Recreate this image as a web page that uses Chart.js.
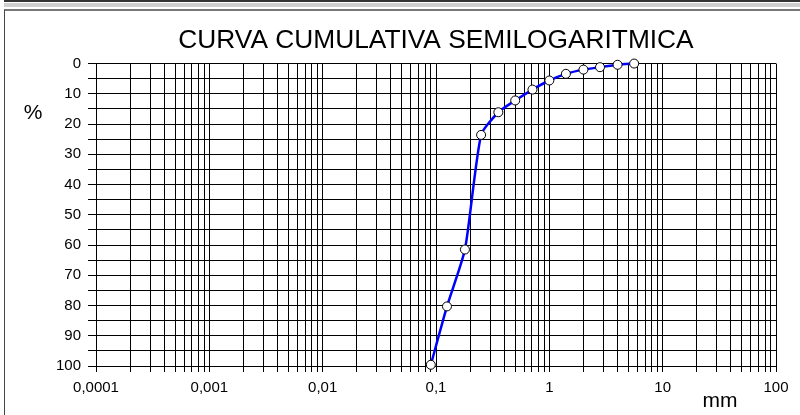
<!DOCTYPE html>
<html lang="es">
<head>
<meta charset="UTF-8">
<title>Curva cumulativa semilogaritmica</title>
<style>
body { margin: 0; background: #fff; }
.wrap { position: relative; width: 800px; height: 415px; overflow: hidden; font-family: 'Liberation Sans', Arial, sans-serif; }
.strip { position: absolute; left: 4px; top: 0; right: 0; height: 2px; background: #333; }
.strip2 { position: absolute; left: 4px; top: 3px; right: 0; height: 4px; background: #cfcfcf; }
.frame { position: absolute; left: 4px; top: 9px; right: -2px; bottom: -2px; border-top: 2px solid #777; border-left: 1px solid #444; }
canvas { position: absolute; left: 0; top: 0; }
</style>
</head>
<body>
<div class="wrap">
  <div class="strip"></div>
  <div class="strip2"></div>
  <div class="frame"></div>
  <canvas id="curva" width="800" height="415"></canvas>
</div>
<script src="https://cdn.jsdelivr.net/npm/chart.js"></script>
<script>
// abertura de tamices (mm) y porcentaje
const sizes = [0.09, 0.125, 0.18, 0.25, 0.355, 0.5, 0.71, 1, 1.4, 2, 2.8, 4, 5.6];
const percent = [99.6, 80.3, 61.5, 23.6, 16.1, 12.2, 8.6, 5.6, 3.4, 2.0, 1.2, 0.4, 0.0];

// ejes
const decades = [0.0001, 0.001, 0.01, 0.1, 1, 10, 100];
const xTickLabels = ['0,0001', '0,001', '0,01', '0,1', '1', '10', '100'];
const multipliers = [1, 2, 3, 4, 5, 6, 7, 8, 9];
const yTickLabels = ['0', '10', '20', '30', '40', '50', '60', '70', '80', '90', '100'];

const FONT = "'Liberation Sans', Arial, sans-serif";

// lineas de la grilla logaritmica: 1..9 por decada
const xGrid = [];
decades.slice(0, -1).forEach(d => multipliers.forEach(m => xGrid.push(m * d)));
xGrid.push(decades[decades.length - 1]);

const axisText = {
  id: 'axisText',
  afterDraw(chart) {
    const ctx = chart.ctx;
    ctx.save();
    ctx.fillStyle = '#000';
    ctx.textAlign = 'center';
    ctx.textBaseline = 'middle';
    ctx.font = '21px ' + FONT;
    ctx.fillText('%', 33, 113);
    ctx.fillText('mm', 720, 401);
    ctx.restore();
  }
};

new Chart(document.getElementById('curva'), {
  type: 'line',
  data: {
    datasets: [{
      data: sizes.map((s, i) => ({ x: s, y: percent[i] })),
      borderColor: '#0000ff',
      borderWidth: 2.5,
      tension: 0.2,
      pointRadius: 4.5,
      pointBackgroundColor: '#fff',
      pointBorderColor: '#000',
      pointBorderWidth: 1,
      clip: false
    }]
  },
  options: {
    responsive: false,
    animation: false,
    devicePixelRatio: 1,
    layout: { padding: { left: 0, right: 24, top: 0, bottom: 0 } },
    plugins: {
      legend: { display: false },
      tooltip: { enabled: false },
      title: {
        display: true,
        text: 'CURVA CUMULATIVA SEMILOGARITMICA',
        fullSize: false,
        color: '#000',
        font: { family: FONT, size: 26.3, weight: 'normal', lineHeight: 1.2 },
        padding: { top: 25, bottom: 7 }
      }
    },
    scales: {
      x: {
        type: 'logarithmic',
        min: decades[0],
        max: decades[decades.length - 1],
        afterBuildTicks(scale) {
          scale.ticks = xGrid.map(v => ({ value: v }));
        },
        afterFit(scale) { scale.height = 49; },
        grid: { color: '#000', lineWidth: 1, tickLength: 6, tickColor: '#000' },
        border: { color: '#000' },
        ticks: {
          autoSkip: false,
          maxRotation: 0,
          padding: 7,
          color: '#000',
          font: { family: FONT, size: 15 },
          callback(value) {
            const i = decades.findIndex(d => Math.abs(d - value) / d < 1e-6);
            return i >= 0 ? xTickLabels[i] : '';
          }
        }
      },
      y: {
        reverse: true,
        min: 0,
        max: 100,
        afterFit(scale) { scale.width = 96; },
        grid: { color: '#000', lineWidth: 1, tickLength: 8, tickColor: '#000' },
        border: { color: '#000' },
        ticks: {
          stepSize: 5,
          autoSkip: false,
          padding: 7,
          color: '#000',
          font: { family: FONT, size: 15 },
          callback(value) {
            return value % 10 === 0 ? yTickLabels[value / 10] : '';
          }
        }
      }
    }
  },
  plugins: [axisText]
});
</script>
</body>
</html>
